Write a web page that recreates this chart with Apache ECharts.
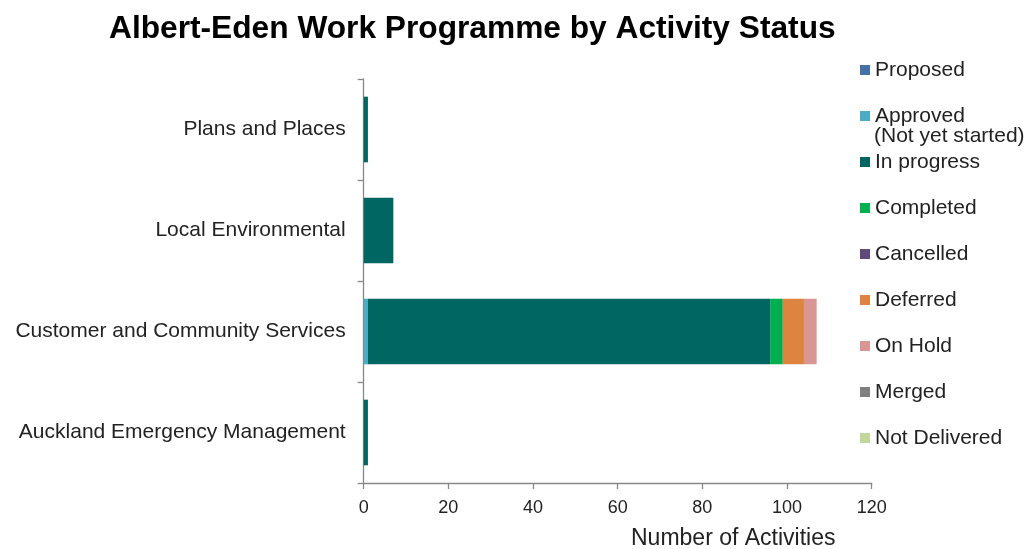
<!DOCTYPE html>
<html>
<head>
<meta charset="utf-8">
<script src="https://cdn.jsdelivr.net/npm/echarts@6/dist/echarts.min.js"></script>
<style>html,body{margin:0;padding:0;background:#fff}#c{width:1029px;height:549px}</style>
</head>
<body>
<div id="c"></div>
<script>
const categories = ['Plans and Places', 'Local Environmental', 'Customer and Community Services', 'Auckland Emergency Management'];
const statusNames = ['Proposed', 'Approved', 'In progress', 'Completed', 'Cancelled', 'Deferred', 'On Hold', 'Merged', 'Not Delivered'];
const proposed     = [0, 0, 0, 0];
const approved     = [0, 0, 1, 0];
const inProgress   = [1, 7, 95, 1];
const completed    = [0, 0, 3, 0];
const cancelled    = [0, 0, 0, 0];
const deferred     = [0, 0, 5, 0];
const onHold       = [0, 0, 3, 0];
const merged       = [0, 0, 0, 0];
const notDelivered = [0, 0, 0, 0];
const xTicks = [0, 20, 40, 60, 80, 100, 120];

const seriesValues = [proposed, approved, inProgress, completed, cancelled, deferred, onHold, merged, notDelivered];
const colors = ['#4472A8', '#4BACC6', '#006661', '#00B050', '#604A7B', '#DE8441', '#D99694', '#808080', '#C3D69B'];
const FONT = 'Liberation Sans, Arial, sans-serif';

const chart = echarts.init(document.getElementById('c'), null, {renderer: 'canvas'});
chart.setOption({
  animation: false,
  backgroundColor: '#fff',
  textStyle: {fontFamily: FONT},
  title: {
    text: 'Albert-Eden Work Programme by Activity Status',
    left: 104, top: 8,
    textStyle: {fontFamily: FONT, fontWeight: 'bold', fontSize: 31.7, color: '#000'}
  },
  grid: {left: 363.7, right: 157.3, top: 79, bottom: 66, containLabel: false},
  legend: {
    orient: 'vertical',
    left: 855, top: 53,
    icon: 'rect',
    itemWidth: 10, itemHeight: 10,
    itemGap: 22,
    data: statusNames,
    selectedMode: false,
    textStyle: {fontFamily: FONT, fontSize: 21, color: '#222', lineHeight: 24}
  },
  graphic: [
    {type: 'text', left: 874, top: 126, style: {text: '(Not yet started)', font: '21px ' + FONT, fill: '#222'}},
    {type: 'text', left: 631, top: 527, style: {text: 'Number of Activities', font: '23px ' + FONT, fill: '#222'}}
  ],
  xAxis: {
    type: 'value',
    min: xTicks[0], max: xTicks[xTicks.length - 1], interval: 20,
    splitLine: {show: false},
    axisLine: {show: true, lineStyle: {color: '#888', width: 1.3}},
    axisTick: {show: true, length: 6, lineStyle: {color: '#888', width: 1.3}},
    axisLabel: {fontFamily: FONT, fontSize: 18, color: '#222', margin: 16}
  },
  yAxis: {
    type: 'category',
    data: categories,
    inverse: true,
    axisLine: {show: true, lineStyle: {color: '#888', width: 1.3}},
    axisTick: {show: true, length: 6, lineStyle: {color: '#888', width: 1.3}},
    axisLabel: {fontFamily: FONT, fontSize: 21, color: '#222', margin: 18}
  },
  series: statusNames.map((n, i) => ({
    name: n,
    type: 'bar',
    stack: 'total',
    barWidth: '65%',
    data: seriesValues[i],
    itemStyle: {color: colors[i]}
  }))
});
</script>
</body>
</html>
